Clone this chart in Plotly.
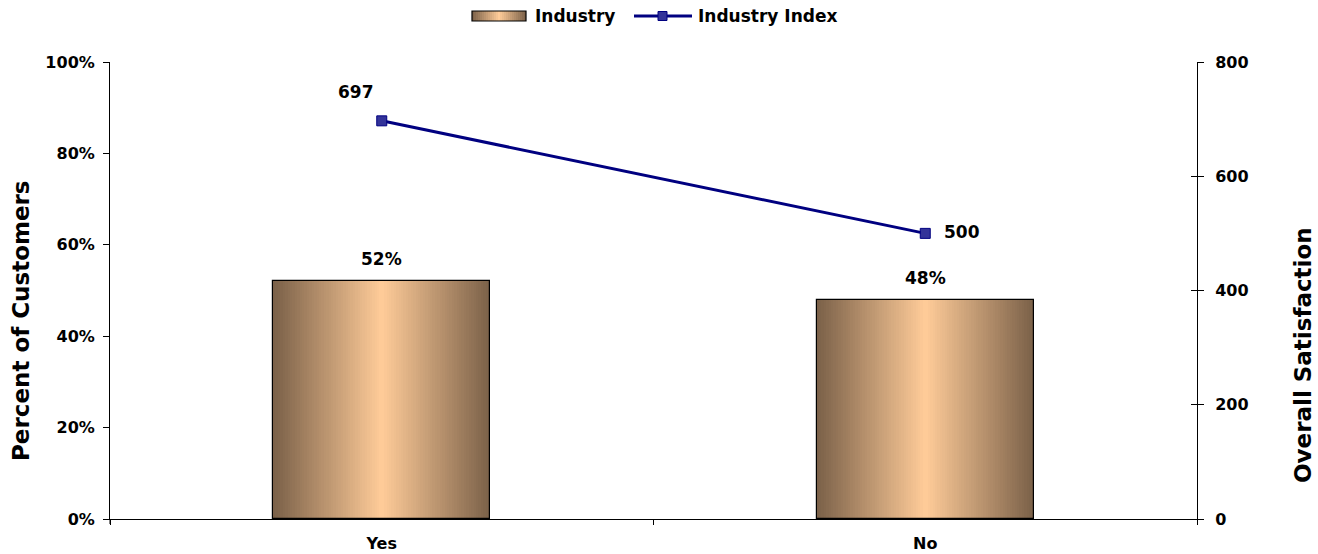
import plotly.graph_objects as go

# Data
categories = ["Yes", "No"]
industry_pct = [0.52, 0.48]
industry_index = [697, 500]
pct_labels = ["52%", "48%"]
index_labels = ["697", "500"]

FONT = "DejaVu Sans, Liberation Sans, Arial, sans-serif"
EDGE = (122, 96, 72)      # dark brown at bar edges
CENTER = (255, 204, 153)  # peach at bar centre
BAR_WIDTH = 0.40
N_SLICES = 90

W, H = 1318, 554
L, R, T, B = 110, 121, 62, 35
PW, PH = W - L - R, H - T - B


def mix(t):
    r = tuple(int(round(e + (c - e) * t)) for e, c in zip(EDGE, CENTER))
    return f"rgb{r}"


def px(x):
    return (x - L) / PW


def py(y):
    return (H - B - y) / PH


fig = go.Figure()

# Horizontal gradient: each bar is built from thin vertical slices
w = BAR_WIDTH / N_SLICES
for i in range(N_SLICES):
    pos = (i + 0.5) / N_SLICES
    t = 1 - abs(pos - 0.5) * 2
    fig.add_trace(go.Bar(
        x=categories, y=industry_pct,
        width=w * (1.6 if i < N_SLICES - 1 else 1.0),
        offset=-BAR_WIDTH / 2 + i * w,
        marker=dict(color=mix(t), line=dict(width=0)),
        showlegend=False, hoverinfo="skip",
    ))

# Bar outline
fig.add_trace(go.Bar(
    x=categories, y=industry_pct, width=BAR_WIDTH,
    marker=dict(color="rgba(0,0,0,0)", line=dict(color="black", width=1.2)),
    showlegend=False, hoverinfo="skip",
))

# Index line on the secondary axis
fig.add_trace(go.Scatter(
    x=categories, y=industry_index, yaxis="y2", name="Industry Index",
    mode="lines+markers",
    line=dict(color="#000080", width=3),
    marker=dict(symbol="square", size=10, color="#333399",
                line=dict(color="#000080", width=1)),
    showlegend=False, cliponaxis=False,
))

# Dummy trace so the third axis (inner tick marks) is drawn
fig.add_trace(go.Scatter(x=categories, y=[None, None], yaxis="y3",
                         showlegend=False, hoverinfo="skip"))

lblfont = dict(family=FONT, size=17, color="black", weight="bold")
annotations = []
for c, v, s in zip(categories, industry_pct, pct_labels):
    annotations.append(dict(x=c, y=v, xref="x", yref="y", text=s, showarrow=False,
                            yanchor="middle", yshift=22, font=lblfont))
annotations.append(dict(x=categories[0], y=industry_index[0], xref="x", yref="y2",
                        text=index_labels[0], showarrow=False, xanchor="center",
                        yanchor="middle", xshift=-26, yshift=29, font=lblfont))
annotations.append(dict(x=categories[1], y=industry_index[1], xref="x", yref="y2",
                        text=index_labels[1], showarrow=False, xanchor="left",
                        yanchor="middle", xshift=17, yshift=1, font=lblfont))

# Axis titles
titlefont = dict(family=FONT, size=23, color="black", weight="bold")
annotations.append(dict(x=px(21), y=py(321), xref="paper", yref="paper",
                        text="Percent of Customers", textangle=-90, showarrow=False,
                        xanchor="center", yanchor="middle", font=titlefont))
annotations.append(dict(x=px(1303), y=py(355), xref="paper", yref="paper",
                        text="Overall Satisfaction", textangle=-90, showarrow=False,
                        xanchor="center", yanchor="middle", font=titlefont))

# Legend
legfont = dict(family=FONT, size=17, color="black", weight="bold")
shapes = []
sw_x0, sw_x1, sw_y0, sw_y1 = 472, 526, 11, 21
n_sw = 27
for i in range(n_sw):
    pos = (i + 0.5) / n_sw
    t = 1 - abs(pos - 0.5) * 2
    xa = sw_x0 + (sw_x1 - sw_x0) * i / n_sw
    xb = sw_x0 + (sw_x1 - sw_x0) * (i + 1) / n_sw + 0.5
    shapes.append(dict(type="rect", xref="paper", yref="paper",
                       x0=px(xa), x1=px(min(xb, sw_x1)), y0=py(sw_y1), y1=py(sw_y0),
                       fillcolor=mix(t), line=dict(width=0), layer="above"))
shapes.append(dict(type="rect", xref="paper", yref="paper",
                   x0=px(sw_x0), x1=px(sw_x1), y0=py(sw_y1), y1=py(sw_y0),
                   fillcolor="rgba(0,0,0,0)", line=dict(color="black", width=1.2)))
shapes.append(dict(type="line", xref="paper", yref="paper",
                   x0=px(634), x1=px(692), y0=py(16), y1=py(16),
                   line=dict(color="#000080", width=3)))
shapes.append(dict(type="rect", xref="paper", yref="paper",
                   x0=px(658), x1=px(667), y0=py(20.5), y1=py(11.5),
                   fillcolor="#333399", line=dict(color="#000080", width=1)))
# Short extension of the left axis below the category axis
shapes.append(dict(type="line", xref="paper", yref="paper",
                   x0=0, x1=0, y0=py(519), y1=py(524),
                   line=dict(color="black", width=1)))
annotations.append(dict(x=px(533), y=py(16), xref="paper", yref="paper",
                        text="Industry", showarrow=False, xanchor="left",
                        yanchor="middle", font=legfont))
annotations.append(dict(x=px(696), y=py(16), xref="paper", yref="paper",
                        text="Industry Index", showarrow=False, xanchor="left",
                        yanchor="middle", font=legfont))

tickfont = dict(family=FONT, size=16, color="black", weight="bold")

fig.update_layout(
    width=W, height=H,
    margin=dict(l=L, r=R, t=T, b=B, autoexpand=False),
    paper_bgcolor="white", plot_bgcolor="white",
    barmode="overlay", bargap=0,
    font=dict(family=FONT, color="black"),
    showlegend=False,
    annotations=annotations,
    shapes=shapes,
    xaxis=dict(
        type="category", showline=True, linecolor="black", linewidth=1,
        ticks="outside", tickson="boundaries", ticklen=5, tickcolor="black",
        tickfont=tickfont, showgrid=False, range=[-0.5, 1.5],
        ticklabelstandoff=10,
    ),
    yaxis=dict(
        range=[0, 1], dtick=0.2, tickformat=".0%",
        showline=True, linecolor="black", linewidth=1,
        ticks="outside", ticklen=6, tickcolor="black",
        tickfont=tickfont, showgrid=False, zeroline=False,
        ticklabelstandoff=5,
    ),
    yaxis2=dict(
        range=[0, 800], dtick=200, overlaying="y", side="right", anchor="x",
        showline=True, linecolor="black", linewidth=1,
        ticks="outside", ticklen=6, tickcolor="black",
        tickfont=tickfont, showgrid=False, zeroline=False,
        ticklabelstandoff=8,
    ),
    yaxis3=dict(
        range=[0, 800], dtick=200, overlaying="y", side="right", anchor="x",
        ticks="inside", ticklen=6, tickcolor="black", showline=False,
        showticklabels=False, showgrid=False, zeroline=False,
    ),
)

fig.write_html("out.html")
